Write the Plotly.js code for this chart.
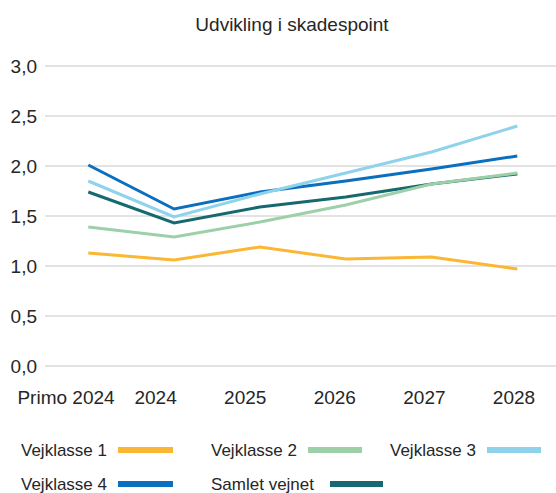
<!DOCTYPE html>
<html><head><meta charset="utf-8">
<script src="https://cdn.plot.ly/plotly-3.0.1.min.js"></script>
<style>html,body{margin:0;padding:0;background:#fff}#chart{width:556px;height:493px}</style>
</head><body><div id="chart"></div>
<script>
const categories = ["Primo 2024", "2024", "2025", "2026", "2027", "2028"];
const seriesNames = ["Vejklasse 1", "Vejklasse 2", "Vejklasse 3", "Vejklasse 4", "Samlet vejnet"];
const vejklasse1 = [1.13, 1.06, 1.19, 1.07, 1.09, 0.97];
const vejklasse2 = [1.39, 1.29, 1.44, 1.61, 1.82, 1.93];
const vejklasse3 = [1.85, 1.49, 1.72, 1.93, 2.14, 2.40];
const vejklasse4 = [2.01, 1.57, 1.74, 1.85, 1.97, 2.10];
const samletVejnet = [1.74, 1.43, 1.59, 1.69, 1.82, 1.92];
const colors = ["#fbb733", "#9dd0a8", "#8ed2ec", "#0b6fbf", "#166a6f"];
const seriesValues = [vejklasse1, vejklasse2, vejklasse3, vejklasse4, samletVejnet];
const yTicks = [0, 0.5, 1, 1.5, 2, 2.5, 3];

const FONT = "Liberation Sans, Arial, Helvetica, sans-serif";
const L = 45, T = 64, W = 511, H = 304;
const px = x => (x - L) / W;
const py = y => (T + H - y) / H;
const idx = categories.map((c, k) => k);

const traces = seriesValues.map((vals, i) => ({
  type: "scatter", mode: "lines", x: idx, y: vals, xaxis: "x", yaxis: "y",
  name: seriesNames[i], line: {color: colors[i], width: 3}, showlegend: false, hoverinfo: "skip"
}));
const order = [4, 3, 2, 1, 0];
// invisible carrier trace for the category label axis
const labelCarrier = {type: "scatter", mode: "lines", x: idx, y: idx.map(() => null), xaxis: "x2", yaxis: "y",
  showlegend: false, hoverinfo: "skip", line: {width: 0}};

const legendPos = [
  {tx: 20, lx0: 118, lx1: 173, y: 450},
  {tx: 210, lx0: 308, lx1: 362, y: 450},
  {tx: 389, lx0: 487, lx1: 541, y: 450},
  {tx: 20, lx0: 118, lx1: 173, y: 484},
  {tx: 210, lx0: 330, lx1: 383, y: 484}
];
const annotations = [], shapes = [];
legendPos.forEach((p, i) => {
  annotations.push({xref: "paper", yref: "paper", x: px(p.tx), y: py(p.y), xanchor: "left", yanchor: "middle",
    xshift: -1, text: seriesNames[i], showarrow: false, font: {family: FONT, size: 17, color: "#262626"}});
  shapes.push({type: "line", xref: "paper", yref: "paper", x0: px(p.lx0), x1: px(p.lx1), y0: py(p.y), y1: py(p.y),
    line: {color: colors[i], width: 6}});
});

const layout = {
  width: 556, height: 493,
  margin: {l: L, r: 556 - L - W, t: T, b: 493 - T - H},
  paper_bgcolor: "#fff", plot_bgcolor: "#fff",
  separators: ",.",
  font: {family: FONT, size: 17, color: "#262626"},
  title: {text: "Udvikling i skadespoint", x: 292 / 556, xref: "container", y: 1 - 24 / 493, yref: "container",
    xanchor: "center", yanchor: "middle", font: {family: FONT, size: 19, color: "#262626"}},
  xaxis: {type: "linear", range: [(L - 88.3) / 85.8, (556 - 88.3) / 85.8], tickvals: idx,
    showticklabels: false, showgrid: false, zeroline: false, showline: false, ticks: "", fixedrange: true},
  xaxis2: {type: "linear", overlaying: "x", anchor: "y", side: "bottom", range: [(L - 66) / 89.6, (556 - 66) / 89.6],
    tickvals: idx, ticktext: categories, showgrid: false, zeroline: false, showline: false, ticks: "",
    ticklabelstandoff: 16, tickfont: {family: FONT, size: 19, color: "#262626"}, fixedrange: true},
  yaxis: {range: [-0.02, 3.02], tickvals: yTicks, tickformat: ".1f", showgrid: true, gridcolor: "#e3e3e3", gridwidth: 1.5,
    zeroline: false, showline: false, ticks: "", ticklabelstandoff: 7,
    tickfont: {family: FONT, size: 19, color: "#262626"}, fixedrange: true},
  annotations: annotations, shapes: shapes
};
Plotly.newPlot("chart", [labelCarrier].concat(order.map(i => traces[i])), layout, {staticPlot: true, displayModeBar: false});
</script></body></html>
